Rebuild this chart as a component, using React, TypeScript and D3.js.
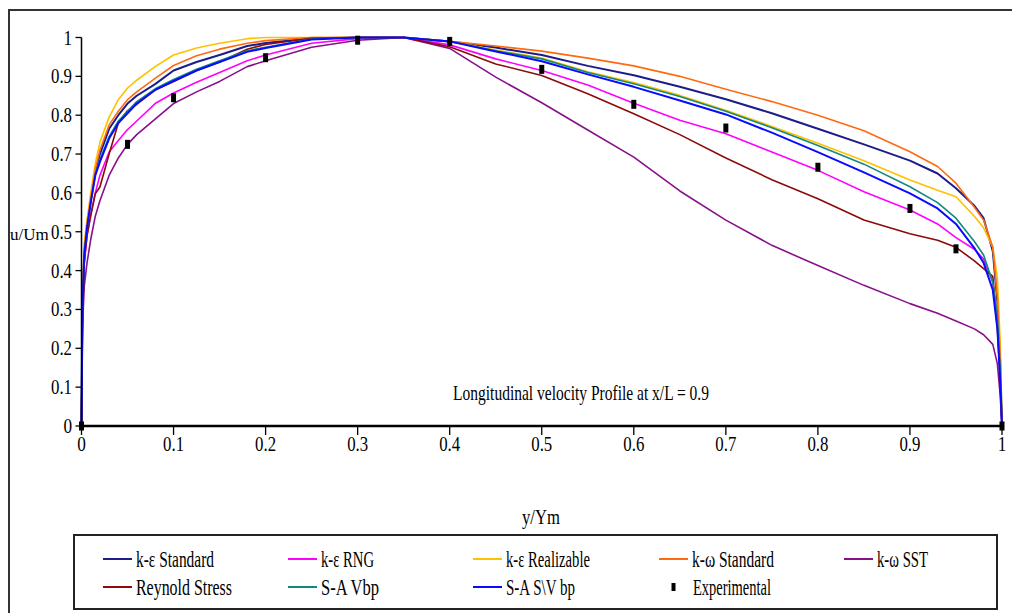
import React from "react";
import * as d3 from "d3";

// y/Ym positions (shared grid for all simulated profiles)
const yGrid = [0, 0.001, 0.003, 0.006, 0.01, 0.015, 0.02, 0.03, 0.04, 0.05, 0.06, 0.08, 0.1, 0.125, 0.15, 0.18, 0.2, 0.25, 0.3, 0.35, 0.4, 0.45, 0.5, 0.55, 0.6, 0.65, 0.7, 0.75, 0.8, 0.85, 0.9, 0.93, 0.95, 0.97, 0.98, 0.99, 0.995, 0.998, 1];

const keStandard = [0, .30, .45, .52, .58, .655, .70, .765, .80, .83, .85, .88, .915, .937, .955, .978, .986, .998, 1, 1, .99, .974, .955, .927, .903, .873, .841, .805, .765, .725, .683, .65, .612, .567, .535, .45, .32, .17, 0];
const keRNG = [0, .28, .42, .49, .545, .60, .645, .705, .735, .763, .785, .83, .857, .885, .91, .94, .955, .985, .997, 1, .981, .945, .915, .878, .831, .787, .752, .705, .658, .603, .556, .52, .485, .455, .43, .37, .27, .14, 0];
const keRealizable = [0, .33, .47, .53, .6, .676, .73, .795, .84, .87, .89, .925, .955, .973, .985, .997, 1, 1, 1, 1, .99, .968, .947, .912, .884, .851, .813, .771, .728, .683, .633, .607, .59, .54, .51, .46, .38, .22, 0];
const kwStandard = [0, .30, .45, .52, .585, .66, .71, .775, .81, .84, .86, .895, .928, .953, .97, .985, .992, 1, 1, 1, .99, .978, .965, .947, .927, .9, .867, .835, .80, .76, .706, .668, .625, .563, .53, .46, .33, .18, 0];
const kwSST = [0, .25, .36, .42, .48, .54, .58, .645, .69, .725, .75, .79, .83, .86, .887, .925, .94, .975, .993, 1, .972, .898, .832, .762, .692, .605, .53, .465, .413, .362, .315, .29, .27, .25, .235, .21, .16, .08, 0];
const reynoldStress = [0, .28, .42, .49, .54, .598, .615, .70, .78, .812, .828, .865, .887, .915, .937, .97, .982, .998, 1, 1, .976, .932, .902, .855, .804, .75, .69, .634, .585, .53, .495, .478, .46, .425, .405, .385, .25, .12, 0];
const saVbp = [0, .30, .44, .51, .575, .648, .685, .745, .785, .81, .835, .868, .892, .918, .94, .966, .975, .996, 1, 1, .99, .966, .945, .91, .881, .848, .81, .768, .722, .674, .616, .575, .535, .475, .44, .37, .28, .15, 0];
const saSVbp = [0, .30, .44, .51, .575, .645, .68, .74, .78, .805, .83, .865, .888, .915, .937, .963, .973, .995, 1, 1, .99, .964, .939, .905, .873, .838, .802, .755, .705, .653, .599, .56, .52, .458, .42, .35, .25, .12, 0];

const expY = [0, 0.05, 0.1, 0.2, 0.3, 0.4, 0.5, 0.6, 0.7, 0.8, 0.9, 0.95, 1];
const expU = [0, 0.725, 0.845, 0.948, 0.993, 0.99, 0.918, 0.828, 0.767, 0.666, 0.56, 0.456, 0];

const seriesNames = ["k-ε Standard", "k-ε RNG", "k-ε Realizable", "k-ω Standard", "k-ω SST", "Reynold Stress", "S-A Vbp", "S-A S\\V bp"];
const seriesValues = [keStandard, keRNG, keRealizable, kwStandard, kwSST, reynoldStress, saVbp, saSVbp];
const seriesColors = ["#1c1c8a", "#ff00ff", "#ffc000", "#ff6a10", "#88108a", "#8b0a0a", "#108a80", "#0a0aff"];

const xTicks = [0, 0.1, 0.2, 0.3, 0.4, 0.5, 0.6, 0.7, 0.8, 0.9, 1];
const yTicks = [0, 0.1, 0.2, 0.3, 0.4, 0.5, 0.6, 0.7, 0.8, 0.9, 1];

const FONT = "'Liberation Serif', 'Times New Roman', serif";

export default function App() {
  const x = d3.scaleLinear().domain([0, 1]).range([81.5, 1002]);
  const y = d3.scaleLinear().domain([0, 1]).range([426, 37.5]);
  const line = d3.line<number>().x((_, i) => x(yGrid[i])).y((d) => y(d));

  const legendCols = [103, 288, 473, 659, 844];
  const legendRows = [559, 587];
  const legendTextLen = [78, 53, 84, 82, 51, 96, 58, 69];
  const legendItems = seriesNames.map((n, i) => ({
    name: n,
    color: seriesColors[i],
    col: legendCols[i % 5],
    row: legendRows[Math.floor(i / 5)],
    len: legendTextLen[i],
  }));

  const tickLabel = (v: number) => (v === 0 || v === 1 ? String(v) : d3.format(".1f")(v));
  const tickLen = (v: number) => (tickLabel(v).length === 1 ? 8.6 : 21);

  return (
    <svg width={1012} height={613} style={{ position: "absolute", left: 0, top: 0 }} fontFamily={FONT}>
      <rect x={0} y={0} width={1012} height={613} fill="#fff" />
      <rect x={9} y={10} width={1010} height={620} fill="none" stroke="#333" strokeWidth={2} />

      {/* series */}
      {seriesValues.map((vals, i) => (
        <path key={i} d={line(vals) || ""} fill="none" stroke={seriesColors[i]} strokeWidth={i === 0 || i === 7 ? 2 : 1.6} strokeLinejoin="round" />
      ))}

      {/* axes */}
      <line x1={x(0)} x2={x(1)} y1={y(0)} y2={y(0)} stroke="#000" strokeWidth={2.5} />
      <line x1={x(0)} x2={x(0)} y1={y(0)} y2={y(1)} stroke="#000" strokeWidth={1.5} />
      {xTicks.map((t) => (
        <g key={"xt" + t}>
          <line x1={x(t)} x2={x(t)} y1={y(0)} y2={y(0) + 9} stroke="#000" strokeWidth={1.3} />
          <text x={x(t) - tickLen(t) / 2} y={451} fontSize={22} textLength={tickLen(t)} lengthAdjust="spacingAndGlyphs">{tickLabel(t)}</text>
        </g>
      ))}
      {yTicks.map((t) => (
        <g key={"yt" + t}>
          <line x1={x(0) - 6} x2={x(0)} y1={y(t)} y2={y(t)} stroke="#000" strokeWidth={1.3} />
          <text x={72 - tickLen(t)} y={y(t) + 7} fontSize={22} textLength={tickLen(t)} lengthAdjust="spacingAndGlyphs">{tickLabel(t)}</text>
        </g>
      ))}

      {/* experimental */}
      {expY.map((v, i) => (
        <rect key={"e" + i} x={x(v) - 2.5} y={y(expU[i]) - 4.5} width={5} height={9} fill="#000" />
      ))}

      {/* labels */}
      <text x={10} y={240} fontSize={17}>u/Um</text>
      <text x={522} y={524} fontSize={22} textLength={38} lengthAdjust="spacingAndGlyphs">y/Ym</text>
      <text x={453} y={400} fontSize={22} textLength={256} lengthAdjust="spacingAndGlyphs">Longitudinal velocity Profile at x/L = 0.9</text>

      {/* legend */}
      <rect x={74} y={535} width={923} height={74} fill="none" stroke="#222" strokeWidth={2} />
      {legendItems.map((it, i) => (
        <g key={"lg" + i}>
          <line x1={it.col} x2={it.col + 29} y1={it.row} y2={it.row} stroke={it.color} strokeWidth={2} />
          <text x={it.col + 33} y={it.row + 8} fontSize={23} textLength={it.len} lengthAdjust="spacingAndGlyphs">{it.name}</text>
        </g>
      ))}
      <rect x={671.5} y={583} width={4} height={8} fill="#000" />
      <text x={693} y={595} fontSize={23} textLength={78} lengthAdjust="spacingAndGlyphs">Experimental</text>
    </svg>
  );
}
